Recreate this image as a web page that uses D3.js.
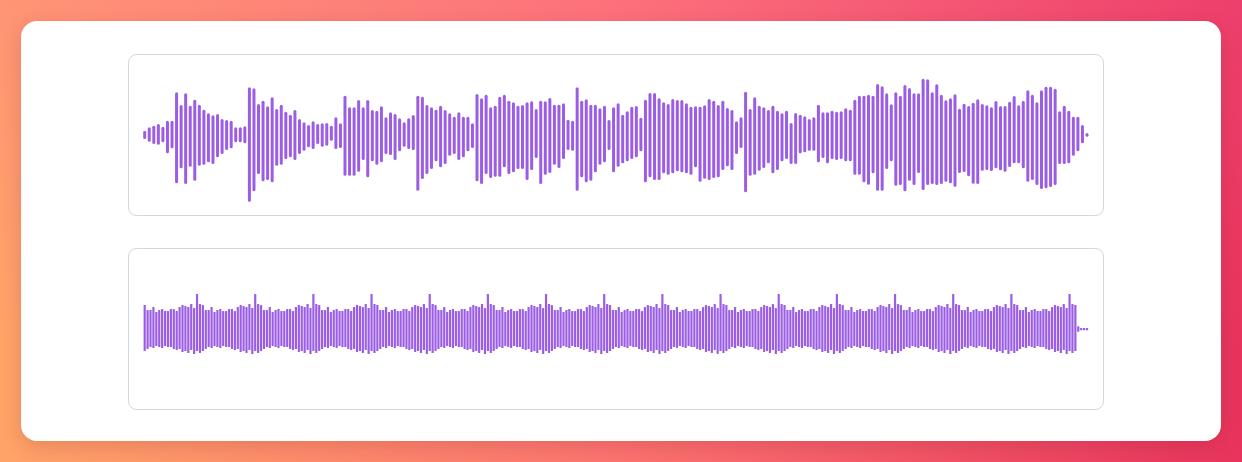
<!DOCTYPE html>
<html><head><meta charset="utf-8">
<script src="https://cdn.jsdelivr.net/npm/d3@7"></script>
<style>
html,body{margin:0;padding:0;width:1242px;height:462px;overflow:hidden;}
body{background:
  linear-gradient(180deg, rgba(255,100,160,0.24) 0%, rgba(255,100,160,0) 75%),
  linear-gradient(90deg, #ffa468 0%, #fc7470 50%, #e8345c 100%);}
.card{position:absolute;left:21px;top:21px;width:1200px;height:420px;background:#fff;border-radius:16px;box-shadow:0 6px 20px rgba(120,20,40,0.18);}
svg{position:absolute;left:0;top:0;}
</style></head><body>
<div class="card"></div>
<svg id="chart" width="1242" height="462"></svg>
<script>
// Top waveform: upper peak and lower peak magnitudes per bar (0-255 scale)
const peakTop = [13,23,28,33,25,43,43,128,90,125,88,106,91,76,65,59,63,48,45,43,23,23,26,143,140,93,103,86,113,78,91,70,61,75,48,38,30,41,33,35,36,28,53,35,118,83,83,105,83,105,75,73,86,53,68,63,50,38,50,60,118,115,90,83,76,88,75,65,55,68,55,55,35,123,110,121,83,88,115,121,103,98,88,90,98,101,78,103,101,111,91,91,95,46,43,143,103,107,91,91,80,88,45,83,95,61,71,85,87,52,106,126,126,110,98,93,108,105,105,95,85,86,85,89,108,103,90,103,81,75,41,53,130,78,113,88,83,75,88,73,65,73,36,66,61,56,48,53,91,68,68,73,70,71,80,76,106,118,118,121,118,153,146,125,92,128,118,150,141,125,125,169,167,128,152,121,104,110,122,79,94,87,97,107,93,89,83,102,87,87,100,117,89,102,134,121,98,134,145,145,139,71,88,73,55,55,30,6];
const peakBottom = [12,20,27,29,22,55,40,145,100,147,95,137,92,89,82,87,67,57,45,40,22,22,25,200,169,117,139,135,142,92,89,72,67,75,57,47,37,42,27,35,32,17,42,39,122,122,122,110,75,127,79,89,82,57,60,75,49,35,42,45,167,132,117,102,79,97,87,62,57,75,67,49,39,139,147,117,129,125,125,97,117,112,102,102,135,105,69,147,119,114,89,99,72,45,47,167,127,142,137,112,89,82,45,112,95,85,79,72,67,49,142,127,135,135,115,119,115,109,112,115,119,97,140,131,135,129,127,105,94,105,57,39,172,122,119,107,99,85,115,105,79,72,87,87,55,52,47,47,82,69,85,72,75,72,79,79,119,119,142,149,115,167,167,102,79,152,150,169,137,150,114,165,150,147,150,147,140,145,155,114,111,124,146,147,107,105,108,100,106,110,96,85,85,100,140,135,150,162,160,156,150,87,87,85,62,49,25,5];

// Bottom waveform (dense)
const denseTop = [
72,57,57,66,51,57,60,54,54,60,60,54,66,72,69,66,75,63,105,75,
72,57,57,66,51,57,60,54,54,60,60,54,66,72,69,66,75,63,105,75,
72,57,57,66,51,57,60,54,54,60,60,54,66,72,69,66,75,63,105,75,
72,57,57,66,51,57,60,54,54,60,60,54,66,72,69,66,75,63,105,75,
72,57,57,66,51,57,60,54,54,60,60,54,66,72,69,66,75,63,105,75,
72,57,57,66,51,57,60,54,54,60,60,54,66,72,69,66,75,63,105,75,
72,57,57,66,51,57,60,54,54,60,60,54,66,72,69,66,75,63,105,75,
72,57,57,66,51,57,60,54,54,60,60,54,66,72,69,66,75,63,105,75,
72,57,57,66,51,57,60,54,54,60,60,54,66,72,69,66,75,63,105,75,
72,57,57,66,51,57,60,54,54,60,60,54,66,72,69,66,75,63,105,75,
72,57,57,66,51,57,60,54,54,60,60,54,66,72,69,66,75,63,105,75,
72,57,57,66,51,57,60,54,54,60,60,54,66,72,69,66,75,63,105,75,
72,57,57,66,51,57,60,54,54,60,60,54,66,72,69,66,75,63,105,75,
72,57,57,66,51,57,60,54,54,60,60,54,66,72,69,66,75,63,105,75,
72,57,57,66,51,57,60,54,54,60,60,54,66,72,69,66,75,63,105,75,
72,57,57,66,51,57,60,54,54,60,60,54,66,72,69,66,75,63,105,75,
72,8,3,3,3];
const denseBottom = [
66,60,54,57,51,54,57,51,54,54,60,63,60,69,66,72,63,75,66,72,
66,60,54,57,51,54,57,51,54,54,60,63,60,69,66,72,63,75,66,72,
66,60,54,57,51,54,57,51,54,54,60,63,60,69,66,72,63,75,66,72,
66,60,54,57,51,54,57,51,54,54,60,63,60,69,66,72,63,75,66,72,
66,60,54,57,51,54,57,51,54,54,60,63,60,69,66,72,63,75,66,72,
66,60,54,57,51,54,57,51,54,54,60,63,60,69,66,72,63,75,66,72,
66,60,54,57,51,54,57,51,54,54,60,63,60,69,66,72,63,75,66,72,
66,60,54,57,51,54,57,51,54,54,60,63,60,69,66,72,63,75,66,72,
66,60,54,57,51,54,57,51,54,54,60,63,60,69,66,72,63,75,66,72,
66,60,54,57,51,54,57,51,54,54,60,63,60,69,66,72,63,75,66,72,
66,60,54,57,51,54,57,51,54,54,60,63,60,69,66,72,63,75,66,72,
66,60,54,57,51,54,57,51,54,54,60,63,60,69,66,72,63,75,66,72,
66,60,54,57,51,54,57,51,54,54,60,63,60,69,66,72,63,75,66,72,
66,60,54,57,51,54,57,51,54,54,60,63,60,69,66,72,63,75,66,72,
66,60,54,57,51,54,57,51,54,54,60,63,60,69,66,72,63,75,66,72,
66,60,54,57,51,54,57,51,54,54,60,63,60,69,66,72,63,75,66,72,
66,8,3,3,3];

const svg = d3.select("#chart");
const color = "#9b5de5";

const panels = [{y:54, cy:135}, {y:248, cy:329}];
svg.selectAll("rect.panel").data(panels).join("rect")
  .attr("class","panel")
  .attr("x",128.5).attr("y",d=>d.y+0.5)
  .attr("width",975).attr("height",161)
  .attr("rx",8).attr("fill","#fff")
  .attr("stroke","#d0d7df").attr("stroke-width",1);

function drawWave(top, bottom, cy, barW, radius) {
  const n = top.length;
  const x = d3.scalePoint().domain(d3.range(n)).range([144.7, 1087]);
  const y = d3.scaleLinear().domain([-255,255]).range([cy+85, cy-85]);
  const data = top.map((t,i)=>({i, t, b: bottom[i]}));
  svg.append("g").selectAll("rect").data(data).join("rect")
    .attr("x", d=>x(d.i)-barW/2)
    .attr("width", barW)
    .attr("y", d=>y(d.t))
    .attr("height", d=>Math.max(barW, y(-d.b)-y(d.t)))
    .attr("rx", radius)
    .attr("fill", color);
}
drawWave(peakTop, peakBottom, 135, 3, 1.5);
drawWave(denseTop, denseBottom, 329, 2.2, 0.5);
</script>
</body></html>
